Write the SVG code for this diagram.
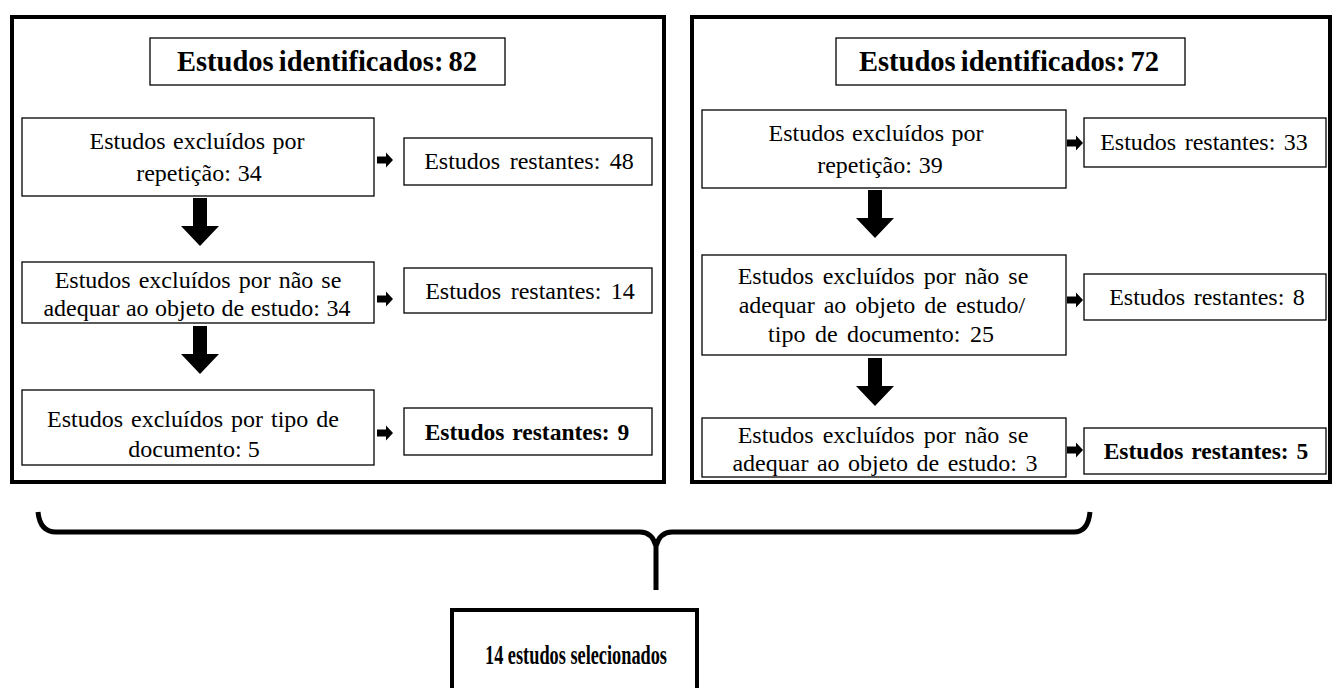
<svg xmlns="http://www.w3.org/2000/svg" width="1336" height="688" viewBox="0 0 1336 688">
<defs>
<style>
.frame{fill:#fff;stroke:#000;stroke-width:4}
.box{fill:#fff;stroke:#000;stroke-width:1.3}
.t{font-family:"Liberation Serif","Times New Roman",serif;font-size:24px;fill:#000;text-anchor:middle}
.b{font-family:"Liberation Serif","Times New Roman",serif;font-weight:bold;fill:#000;text-anchor:middle}
</style>
<path id="sa" d="M0,-3.5 L9,-3.5 L9,-7.5 L16,0 L9,7.5 L9,3.5 L0,3.5 Z"/>
<path id="ba" d="M-7,0 L7,0 L7,28 L19,28 L0,48 L-19,28 L-7,28 Z"/>
</defs>
<rect width="1336" height="688" fill="#fff"/>
<g id="panel-left">
<rect class="frame" x="12" y="17" width="652" height="465"/>
</g>
<g id="panel-right">
<rect class="frame" x="692" y="17" width="638" height="465"/>
</g>
<g id="connectors">
<use href="#ba" x="200" y="198"/>
<use href="#ba" x="200" y="326"/>
<use href="#ba" x="875" y="190"/>
<use href="#ba" x="875" y="358"/>
<use href="#sa" x="377" y="160"/>
<use href="#sa" x="377" y="299"/>
<use href="#sa" x="377" y="433"/>
<use href="#sa" x="1067" y="143"/>
<use href="#sa" x="1067" y="300"/>
<use href="#sa" x="1067" y="450"/>
<path d="M38,512 Q40,532 56,532 L640,532 Q652,532 656,546 L656,590 M656,546 Q660,532 672,532 L1074,532 Q1088,532 1090,512" fill="none" stroke="#000" stroke-width="5"/>
</g>
<g id="title-left">
<rect class="box" x="150" y="38" width="355" height="47"/>
<text class="b" x="327" y="71" font-size="28.5" word-spacing="-2">Estudos identificados: 82</text>
</g>
<g id="l-ex1">
<rect class="box" x="22" y="118" width="352" height="78"/>
<text class="t" x="197" y="149" word-spacing="1.5">Estudos excluídos por</text>
<text class="t" x="199" y="181" word-spacing="1">repetição: 34</text>
</g>
<g id="l-rest1">
<rect class="box" x="404" y="138" width="248" height="47"/>
<text class="t" x="529" y="169" word-spacing="3.5">Estudos restantes: 48</text>
</g>
<g id="l-ex2">
<rect class="box" x="22" y="262" width="352" height="61"/>
<text class="t" x="198" y="288" word-spacing="2">Estudos excluídos por não se</text>
<text class="t" x="197" y="316" word-spacing="0.5">adequar ao objeto de estudo: 34</text>
</g>
<g id="l-rest2">
<rect class="box" x="404" y="268" width="248" height="45"/>
<text class="t" x="530" y="299" word-spacing="3.5">Estudos restantes: 14</text>
</g>
<g id="l-ex3">
<rect class="box" x="22" y="390" width="352" height="75"/>
<text class="t" x="193" y="427" word-spacing="2">Estudos excluídos por tipo de</text>
<text class="t" x="194" y="457">documento: 5</text>
</g>
<g id="l-rest3">
<rect class="box" x="404" y="408" width="248" height="47"/>
<text class="b" x="527" y="440" font-size="23.5" word-spacing="2">Estudos restantes: 9</text>
</g>
<g id="title-right">
<rect class="box" x="836" y="38" width="349" height="47"/>
<text class="b" x="1009" y="71" font-size="28.5" word-spacing="-2">Estudos identificados: 72</text>
</g>
<g id="r-ex1">
<rect class="box" x="702" y="110" width="364" height="78"/>
<text class="t" x="876" y="141" word-spacing="1.5">Estudos excluídos por</text>
<text class="t" x="880" y="173" word-spacing="1">repetição: 39</text>
</g>
<g id="r-rest1">
<rect class="box" x="1084" y="118" width="242" height="49"/>
<text class="t" x="1204" y="150" word-spacing="2.5">Estudos restantes: 33</text>
</g>
<g id="r-ex2">
<rect class="box" x="702" y="255" width="364" height="100"/>
<text class="t" x="883" y="284" word-spacing="3">Estudos excluídos por não se</text>
<text class="t" x="882" y="313" word-spacing="3">adequar ao objeto de estudo/</text>
<text class="t" x="881" y="342" word-spacing="3.5">tipo de documento: 25</text>
</g>
<g id="r-rest2">
<rect class="box" x="1084" y="274" width="242" height="46"/>
<text class="t" x="1207" y="305" word-spacing="2.5">Estudos restantes: 8</text>
</g>
<g id="r-ex3">
<rect class="box" x="702" y="418" width="364" height="59"/>
<text class="t" x="883" y="443" word-spacing="3">Estudos excluídos por não se</text>
<text class="t" x="885" y="471" word-spacing="2.5">adequar ao objeto de estudo: 3</text>
</g>
<g id="r-rest3">
<rect class="box" x="1084" y="428" width="242" height="46"/>
<text class="b" x="1206" y="459" font-size="23.5" word-spacing="2">Estudos restantes: 5</text>
</g>
<g id="selected">
<rect class="frame" x="452" y="610" width="245" height="95"/>
<text class="b" x="576" y="664" font-size="27" textLength="182" lengthAdjust="spacingAndGlyphs">14 estudos selecionados</text>
</g>
</svg>
